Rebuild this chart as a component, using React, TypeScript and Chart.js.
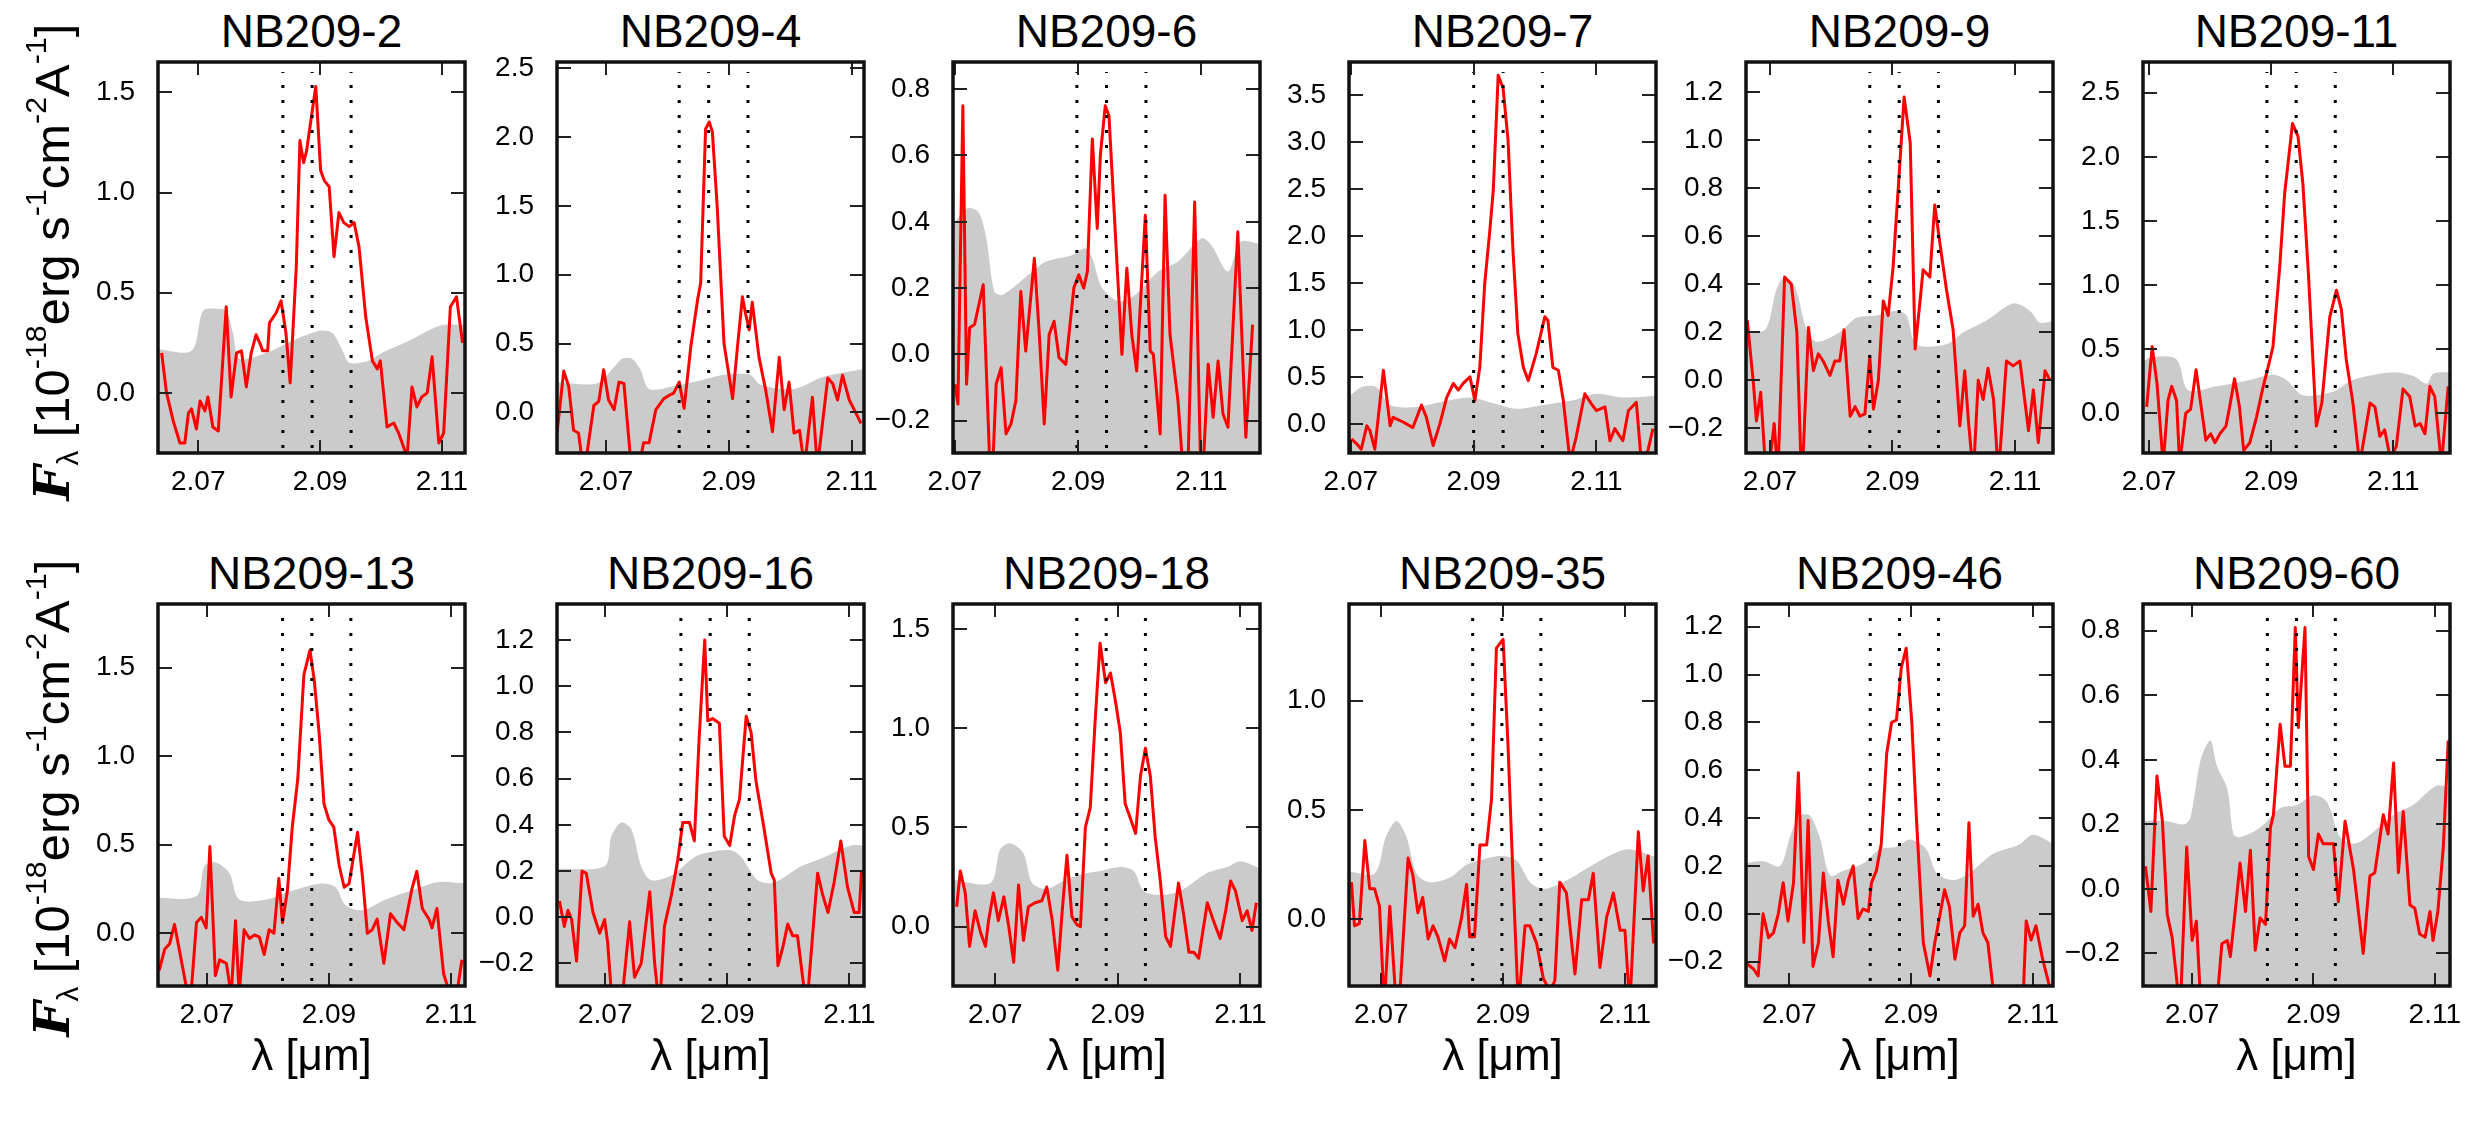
import React, { useEffect, useRef } from 'react';
import { Chart, registerables } from 'chart.js';

Chart.register(...registerables);

const FONT = "'Liberation Sans', Arial, Helvetica, sans-serif";
Chart.defaults.font.family = FONT;

// ---------------- DATA ----------------
const PANEL_NAMES = [
  'NB209-2', 'NB209-4', 'NB209-6', 'NB209-7', 'NB209-9', 'NB209-11',
  'NB209-13', 'NB209-16', 'NB209-18', 'NB209-35', 'NB209-46', 'NB209-60',
];

const X_TICKS = [2.07, 2.09, 2.11];

const X_MIN = [2.0634, 2.0620, 2.0697, 2.0697, 2.0661, 2.0690, 2.0620, 2.0621, 2.0631, 2.0647, 2.0629, 2.0619];
const X_MAX = [2.1138, 2.1120, 2.1195, 2.1197, 2.1162, 2.1193, 2.1123, 2.1124, 2.1132, 2.1151, 2.1133, 2.1125];
const Y_MIN = [-0.30, -0.295, -0.2975, -0.31, -0.303, -0.31, -0.298, -0.298, -0.30, -0.305, -0.302, -0.301];
const Y_MAX = [1.652, 2.546, 0.882, 3.85, 1.326, 2.74, 1.86, 1.356, 1.628, 1.442, 1.295, 0.883];

const Y_TICKS = [
  [0, 0.5, 1.0, 1.5],
  [0, 0.5, 1.0, 1.5, 2.0, 2.5],
  [-0.2, 0, 0.2, 0.4, 0.6, 0.8],
  [0, 0.5, 1.0, 1.5, 2.0, 2.5, 3.0, 3.5],
  [-0.2, 0, 0.2, 0.4, 0.6, 0.8, 1.0, 1.2],
  [0, 0.5, 1.0, 1.5, 2.0, 2.5],
  [0, 0.5, 1.0, 1.5],
  [-0.2, 0, 0.2, 0.4, 0.6, 0.8, 1.0, 1.2],
  [0, 0.5, 1.0, 1.5],
  [0, 0.5, 1.0],
  [-0.2, 0, 0.2, 0.4, 0.6, 0.8, 1.0, 1.2],
  [-0.2, 0, 0.2, 0.4, 0.6, 0.8],
];

// [NII]6548, Halpha, [NII]6583 marker wavelengths (micron)
const LINE_MARKS = [
  [2.0839, 2.0887, 2.0951],
  [2.0819, 2.0867, 2.0931],
  [2.0898, 2.0946, 2.1010],
  [2.0900, 2.0948, 2.1012],
  [2.0863, 2.0911, 2.0975],
  [2.0893, 2.0941, 2.1005],
  [2.0824, 2.0872, 2.0936],
  [2.0824, 2.0872, 2.0936],
  [2.0833, 2.0881, 2.0945],
  [2.0850, 2.0898, 2.0962],
  [2.0833, 2.0881, 2.0945],
  [2.0824, 2.0872, 2.0936],
];

// spectra: [wavelength (micron), flux]
const NB209_2_SPEC = [[2.0640,0.20],[2.0648,0.00],[2.0659,-0.14],[2.0670,-0.25],[2.0678,-0.25],[2.0684,-0.10],[2.0689,-0.08],[2.0697,-0.18],[2.0703,-0.04],[2.0711,-0.09],[2.0716,-0.02],[2.0724,-0.17],[2.0733,-0.19],[2.0746,0.43],[2.0754,-0.02],[2.0763,0.20],[2.0771,0.21],[2.0779,0.03],[2.0787,0.20],[2.0795,0.29],[2.0801,0.25],[2.0806,0.21],[2.0814,0.21],[2.0817,0.35],[2.0828,0.40],[2.0836,0.46],[2.0844,0.30],[2.0851,0.05],[2.0861,0.63],[2.0867,1.26],[2.0873,1.15],[2.0878,1.21],[2.0885,1.36],[2.0893,1.53],[2.0901,1.11],[2.0907,1.06],[2.0915,1.03],[2.0923,0.68],[2.0931,0.90],[2.0939,0.85],[2.0948,0.83],[2.0956,0.85],[2.0964,0.73],[2.0975,0.38],[2.0986,0.16],[2.0994,0.12],[2.0999,0.16],[2.1010,-0.17],[2.1021,-0.15],[2.1029,-0.20],[2.1043,-0.32],[2.1051,0.03],[2.1059,-0.07],[2.1067,-0.02],[2.1076,0.00],[2.1084,0.18],[2.1095,-0.25],[2.1103,-0.20],[2.1114,0.43],[2.1124,0.48],[2.1134,0.25]];
const NB209_2_NOISE = [[2.0630,0.22],[2.0689,0.21],[2.0708,0.41],[2.0730,0.42],[2.0746,0.41],[2.0757,0.30],[2.0768,0.17],[2.0812,0.20],[2.0855,0.26],[2.0899,0.31],[2.0920,0.30],[2.0937,0.21],[2.0948,0.15],[2.0980,0.16],[2.1002,0.20],[2.1046,0.26],[2.1084,0.32],[2.1105,0.34],[2.1140,0.34]];

const NB209_4_SPEC = [[2.0620,-0.15],[2.0631,0.30],[2.0639,0.19],[2.0647,-0.13],[2.0655,-0.15],[2.0664,-0.45],[2.0680,0.05],[2.0688,0.08],[2.0696,0.31],[2.0704,0.09],[2.0713,0.02],[2.0721,0.22],[2.0729,0.21],[2.0745,-0.60],[2.0761,-0.22],[2.0770,-0.22],[2.0781,0.02],[2.0794,0.10],[2.0805,0.13],[2.0810,0.14],[2.0819,0.22],[2.0827,0.03],[2.0838,0.48],[2.0849,0.82],[2.0854,0.94],[2.0862,2.06],[2.0868,2.11],[2.0873,2.04],[2.0881,1.49],[2.0892,0.50],[2.0906,0.10],[2.0914,0.48],[2.0922,0.84],[2.0927,0.72],[2.0933,0.60],[2.0938,0.80],[2.0949,0.40],[2.0960,0.16],[2.0971,-0.14],[2.0982,0.40],[2.0990,0.02],[2.0998,0.22],[2.1006,-0.15],[2.1015,-0.13],[2.1023,-0.40],[2.1036,0.11],[2.1044,-0.40],[2.1061,0.25],[2.1069,0.21],[2.1077,0.09],[2.1085,0.27],[2.1096,0.09],[2.1104,0.02],[2.1115,-0.08]];
const NB209_4_NOISE = [[2.0615,0.22],[2.0685,0.21],[2.0713,0.33],[2.0726,0.39],[2.0742,0.39],[2.0756,0.31],[2.0770,0.17],[2.0810,0.19],[2.0843,0.22],[2.0887,0.27],[2.0919,0.28],[2.0936,0.27],[2.0952,0.20],[2.1006,0.17],[2.1055,0.26],[2.1125,0.32]];

const NB209_6_SPEC = [[2.0700,-0.09],[2.0705,-0.15],[2.0713,0.75],[2.0719,-0.09],[2.0724,0.08],[2.0732,0.09],[2.0746,0.21],[2.0759,-0.45],[2.0767,-0.09],[2.0775,-0.04],[2.0783,-0.24],[2.0791,-0.21],[2.0799,-0.14],[2.0807,0.19],[2.0815,0.01],[2.0829,0.29],[2.0837,0.06],[2.0845,-0.21],[2.0853,0.06],[2.0861,0.10],[2.0869,-0.01],[2.0880,-0.03],[2.0893,0.20],[2.0901,0.24],[2.0909,0.20],[2.0915,0.25],[2.0923,0.65],[2.0931,0.38],[2.0936,0.60],[2.0944,0.75],[2.0950,0.72],[2.0971,0.00],[2.0979,0.26],[2.0987,0.06],[2.0995,-0.05],[2.1009,0.42],[2.1017,0.01],[2.1022,0.00],[2.1033,-0.24],[2.1041,0.48],[2.1049,0.06],[2.1062,-0.14],[2.1076,-0.50],[2.1089,0.46],[2.1100,-0.45],[2.1111,-0.03],[2.1119,-0.19],[2.1127,-0.02],[2.1135,-0.18],[2.1143,-0.22],[2.1159,0.37],[2.1172,-0.25],[2.1183,0.09]];
const NB209_6_NOISE = [[2.0690,0.37],[2.0719,0.44],[2.0738,0.43],[2.0751,0.35],[2.0764,0.19],[2.0778,0.18],[2.0826,0.25],[2.0848,0.28],[2.0891,0.30],[2.0912,0.32],[2.0923,0.29],[2.0939,0.20],[2.0966,0.16],[2.0993,0.18],[2.1030,0.25],[2.1062,0.28],[2.1100,0.35],[2.1116,0.33],[2.1143,0.25],[2.1164,0.34],[2.1200,0.33]];

const NB209_7_SPEC = [[2.0701,-0.16],[2.0709,-0.21],[2.0717,-0.27],[2.0726,-0.02],[2.0731,-0.07],[2.0739,-0.27],[2.0753,0.57],[2.0764,-0.02],[2.0769,0.07],[2.0785,0.02],[2.0801,-0.04],[2.0815,0.20],[2.0823,0.07],[2.0834,-0.23],[2.0845,0.00],[2.0856,0.28],[2.0867,0.43],[2.0875,0.36],[2.0883,0.43],[2.0894,0.50],[2.0902,0.25],[2.0910,0.60],[2.0918,1.49],[2.0926,2.03],[2.0932,2.49],[2.0940,3.71],[2.0948,3.57],[2.0956,3.02],[2.0964,1.85],[2.0972,0.96],[2.0981,0.60],[2.0989,0.46],[2.1002,0.75],[2.1016,1.14],[2.1021,1.10],[2.1029,0.60],[2.1038,0.57],[2.1046,0.25],[2.1057,-0.40],[2.1067,-0.14],[2.1081,0.32],[2.1092,0.21],[2.1100,0.14],[2.1114,0.18],[2.1122,-0.18],[2.1130,-0.05],[2.1143,-0.18],[2.1152,0.14],[2.1165,0.23],[2.1173,-0.40],[2.1184,-0.28],[2.1192,-0.05]];
const NB209_7_NOISE = [[2.0690,0.25],[2.0717,0.39],[2.0742,0.39],[2.0764,0.20],[2.0807,0.18],[2.0845,0.23],[2.0894,0.28],[2.0926,0.23],[2.0970,0.16],[2.1013,0.20],[2.1062,0.25],[2.1100,0.32],[2.1143,0.28],[2.1200,0.30]];

const NB209_9_SPEC = [[2.0663,0.25],[2.0673,-0.01],[2.0678,-0.17],[2.0685,-0.05],[2.0695,-0.45],[2.0707,-0.18],[2.0713,-0.40],[2.0724,0.43],[2.0735,0.40],[2.0744,0.20],[2.0752,-0.45],[2.0763,0.22],[2.0771,0.04],[2.0779,0.11],[2.0787,0.08],[2.0798,0.02],[2.0806,0.08],[2.0814,0.08],[2.0821,0.21],[2.0831,-0.15],[2.0839,-0.11],[2.0847,-0.15],[2.0855,-0.14],[2.0863,0.10],[2.0869,-0.12],[2.0877,0.00],[2.0885,0.33],[2.0893,0.27],[2.0901,0.47],[2.0911,0.86],[2.0919,1.18],[2.0929,0.99],[2.0937,0.13],[2.0945,0.33],[2.0950,0.46],[2.0961,0.43],[2.0969,0.73],[2.0978,0.56],[2.0988,0.38],[2.0999,0.21],[2.1010,-0.19],[2.1018,0.04],[2.1024,-0.17],[2.1032,-0.40],[2.1040,0.00],[2.1048,-0.08],[2.1056,0.05],[2.1065,-0.08],[2.1073,-0.40],[2.1086,0.08],[2.1097,0.06],[2.1108,0.08],[2.1122,-0.21],[2.1130,-0.04],[2.1138,-0.26],[2.1149,0.04],[2.1157,0.00]];
const NB209_9_NOISE = [[2.0655,0.21],[2.0692,0.21],[2.0711,0.38],[2.0724,0.43],[2.0741,0.39],[2.0760,0.21],[2.0776,0.16],[2.0814,0.20],[2.0841,0.26],[2.0874,0.27],[2.0907,0.29],[2.0923,0.27],[2.0939,0.15],[2.0988,0.15],[2.1016,0.20],[2.1054,0.25],[2.1097,0.32],[2.1124,0.29],[2.1141,0.24],[2.1165,0.25]];

const NB209_11_SPEC = [[2.0696,0.05],[2.0705,0.52],[2.0713,0.23],[2.0723,-0.40],[2.0731,0.10],[2.0737,0.21],[2.0745,0.10],[2.0750,-0.40],[2.0760,0.00],[2.0768,0.03],[2.0777,0.34],[2.0783,0.13],[2.0793,-0.21],[2.0801,-0.16],[2.0808,-0.23],[2.0816,-0.16],[2.0826,-0.10],[2.0832,0.05],[2.0840,0.27],[2.0848,0.05],[2.0855,-0.29],[2.0865,-0.23],[2.0876,-0.03],[2.0887,0.21],[2.0895,0.36],[2.0903,0.52],[2.0914,1.14],[2.0922,1.71],[2.0935,2.26],[2.0944,2.16],[2.0952,1.79],[2.0961,1.09],[2.0974,-0.10],[2.0983,0.08],[2.0996,0.75],[2.1007,0.96],[2.1015,0.81],[2.1023,0.42],[2.1034,0.08],[2.1045,-0.40],[2.1062,0.08],[2.1070,0.05],[2.1078,-0.18],[2.1086,-0.13],[2.1095,-0.35],[2.1105,-0.26],[2.1116,0.19],[2.1127,0.13],[2.1136,-0.10],[2.1144,-0.08],[2.1152,-0.16],[2.1160,0.21],[2.1168,0.13],[2.1179,-0.40],[2.1190,0.21]];
const NB209_11_NOISE = [[2.0685,0.39],[2.0707,0.44],[2.0745,0.42],[2.0764,0.18],[2.0810,0.21],[2.0865,0.26],[2.0903,0.30],[2.0925,0.26],[2.0952,0.14],[2.1002,0.17],[2.1034,0.26],[2.1100,0.32],[2.1133,0.29],[2.1155,0.23],[2.1166,0.31],[2.1200,0.32]];

const NB209_13_SPEC = [[2.0622,-0.21],[2.0631,-0.09],[2.0639,-0.06],[2.0647,0.05],[2.0658,-0.15],[2.0669,-0.35],[2.0674,-0.35],[2.0683,0.06],[2.0691,0.09],[2.0699,0.03],[2.0705,0.49],[2.0714,-0.24],[2.0721,-0.15],[2.0732,-0.17],[2.0740,-0.35],[2.0747,0.07],[2.0753,-0.35],[2.0761,0.02],[2.0770,-0.03],[2.0778,-0.01],[2.0786,-0.02],[2.0794,-0.12],[2.0802,0.02],[2.0810,0.00],[2.0818,0.31],[2.0824,0.06],[2.0832,0.24],[2.0840,0.60],[2.0849,0.87],[2.0859,1.46],[2.0869,1.60],[2.0876,1.43],[2.0884,1.13],[2.0892,0.73],[2.0900,0.64],[2.0908,0.60],[2.0917,0.38],[2.0925,0.26],[2.0933,0.28],[2.0947,0.57],[2.0955,0.32],[2.0963,0.00],[2.0971,0.02],[2.0979,0.08],[2.0990,-0.17],[2.1001,0.11],[2.1012,0.06],[2.1023,0.02],[2.1036,0.25],[2.1044,0.35],[2.1053,0.14],[2.1064,0.08],[2.1069,0.03],[2.1077,0.14],[2.1088,-0.23],[2.1099,-0.35],[2.1110,-0.33],[2.1118,-0.15]];
const NB209_13_NOISE = [[2.0615,0.20],[2.0683,0.21],[2.0696,0.38],[2.0715,0.40],[2.0737,0.34],[2.0753,0.19],[2.0797,0.19],[2.0840,0.24],[2.0884,0.28],[2.0911,0.26],[2.0927,0.16],[2.0955,0.13],[2.0993,0.19],[2.1042,0.25],[2.1080,0.29],[2.1125,0.28]];

const NB209_16_SPEC = [[2.0625,0.07],[2.0633,-0.04],[2.0639,0.03],[2.0645,-0.01],[2.0653,-0.19],[2.0662,0.20],[2.0669,0.19],[2.0680,0.02],[2.0691,-0.07],[2.0699,-0.01],[2.0704,-0.11],[2.0712,-0.40],[2.0726,-0.40],[2.0740,-0.02],[2.0748,-0.26],[2.0759,-0.20],[2.0773,0.11],[2.0781,-0.20],[2.0789,-0.40],[2.0797,-0.04],[2.0808,0.09],[2.0819,0.25],[2.0827,0.41],[2.0838,0.41],[2.0846,0.33],[2.0854,0.78],[2.0863,1.20],[2.0868,0.85],[2.0876,0.86],[2.0887,0.84],[2.0895,0.35],[2.0904,0.31],[2.0912,0.44],[2.0920,0.51],[2.0931,0.87],[2.0939,0.80],[2.0947,0.59],[2.0958,0.42],[2.0972,0.19],[2.0977,0.16],[2.0983,-0.21],[2.0991,-0.13],[2.0999,-0.03],[2.1007,-0.08],[2.1015,-0.08],[2.1030,-0.40],[2.1048,0.19],[2.1056,0.10],[2.1065,0.02],[2.1075,0.15],[2.1086,0.33],[2.1097,0.13],[2.1108,0.02],[2.1116,0.02],[2.1120,0.20]];
const NB209_16_NOISE = [[2.0615,0.21],[2.0699,0.22],[2.0710,0.35],[2.0726,0.41],[2.0743,0.38],[2.0759,0.22],[2.0775,0.16],[2.0808,0.18],[2.0846,0.26],[2.0868,0.28],[2.0906,0.29],[2.0923,0.26],[2.0950,0.16],[2.0977,0.15],[2.1021,0.22],[2.1059,0.26],[2.1103,0.31],[2.1126,0.31]];

const NB209_18_SPEC = [[2.0637,0.10],[2.0643,0.28],[2.0651,0.17],[2.0658,-0.10],[2.0667,0.08],[2.0676,-0.03],[2.0684,-0.10],[2.0689,0.03],[2.0697,0.17],[2.0705,0.03],[2.0714,0.15],[2.0722,0.00],[2.0730,-0.18],[2.0738,0.21],[2.0746,-0.07],[2.0754,0.10],[2.0765,0.12],[2.0776,0.13],[2.0784,0.20],[2.0793,0.03],[2.0802,-0.22],[2.0809,0.07],[2.0817,0.36],[2.0825,0.05],[2.0833,0.01],[2.0839,0.00],[2.0847,0.50],[2.0855,0.60],[2.0863,1.04],[2.0871,1.43],[2.0880,1.23],[2.0888,1.28],[2.0896,1.14],[2.0904,0.98],[2.0912,0.62],[2.0920,0.55],[2.0929,0.47],[2.0937,0.76],[2.0945,0.90],[2.0953,0.76],[2.0961,0.45],[2.0969,0.24],[2.0978,-0.05],[2.0986,-0.10],[2.0999,0.22],[2.1007,0.07],[2.1016,-0.13],[2.1024,-0.13],[2.1032,-0.16],[2.1046,0.12],[2.1056,0.03],[2.1067,-0.06],[2.1076,0.08],[2.1084,0.23],[2.1092,0.18],[2.1103,0.03],[2.1111,0.08],[2.1119,-0.02],[2.1126,0.12]];
const NB209_18_NOISE = [[2.0625,0.24],[2.0692,0.22],[2.0708,0.39],[2.0724,0.42],[2.0746,0.37],[2.0760,0.22],[2.0784,0.19],[2.0817,0.24],[2.0850,0.27],[2.0871,0.28],[2.0904,0.30],[2.0926,0.28],[2.0942,0.18],[2.0969,0.16],[2.1002,0.18],[2.1046,0.27],[2.1078,0.30],[2.1100,0.33],[2.1135,0.29]];

const NB209_35_SPEC = [[2.0651,0.17],[2.0656,-0.03],[2.0664,-0.02],[2.0673,0.36],[2.0681,0.14],[2.0689,0.14],[2.0697,0.06],[2.0705,-0.40],[2.0714,0.06],[2.0727,-0.50],[2.0744,0.28],[2.0752,0.20],[2.0760,0.03],[2.0768,0.10],[2.0777,-0.09],[2.0785,-0.03],[2.0793,-0.08],[2.0804,-0.19],[2.0812,-0.09],[2.0821,-0.13],[2.0832,0.01],[2.0840,0.16],[2.0845,-0.08],[2.0853,-0.08],[2.0862,0.34],[2.0873,0.34],[2.0881,0.55],[2.0889,1.24],[2.0900,1.28],[2.0908,0.80],[2.0916,0.21],[2.0925,-0.40],[2.0936,-0.03],[2.0944,-0.03],[2.0955,-0.11],[2.0966,-0.27],[2.0977,-0.33],[2.0985,-0.28],[2.0993,0.17],[2.1004,0.12],[2.1018,-0.25],[2.1029,0.09],[2.1040,0.09],[2.1048,0.21],[2.1059,-0.22],[2.1070,0.01],[2.1081,0.12],[2.1092,-0.05],[2.1100,-0.05],[2.1108,-0.40],[2.1122,0.40],[2.1130,0.13],[2.1138,0.29],[2.1147,-0.11]];
const NB209_35_NOISE = [[2.0645,0.22],[2.0689,0.21],[2.0708,0.38],[2.0725,0.45],[2.0741,0.38],[2.0758,0.21],[2.0779,0.17],[2.0812,0.19],[2.0840,0.25],[2.0862,0.27],[2.0895,0.29],[2.0922,0.27],[2.0944,0.17],[2.0966,0.14],[2.0999,0.17],[2.1042,0.24],[2.1081,0.30],[2.1108,0.32],[2.1155,0.28]];

const NB209_46_SPEC = [[2.0631,-0.21],[2.0641,-0.23],[2.0649,-0.26],[2.0657,0.00],[2.0666,-0.10],[2.0674,-0.08],[2.0682,0.00],[2.0690,0.13],[2.0698,-0.03],[2.0707,0.13],[2.0715,0.59],[2.0724,-0.12],[2.0731,0.39],[2.0739,-0.22],[2.0748,-0.12],[2.0756,0.17],[2.0764,-0.03],[2.0772,-0.18],[2.0780,0.14],[2.0789,0.04],[2.0797,0.14],[2.0805,0.20],[2.0813,-0.02],[2.0821,0.02],[2.0830,0.01],[2.0835,0.13],[2.0843,0.18],[2.0851,0.29],[2.0860,0.67],[2.0868,0.80],[2.0876,0.81],[2.0884,1.03],[2.0892,1.11],[2.0901,0.81],[2.0909,0.39],[2.0920,-0.12],[2.0931,-0.26],[2.0939,-0.12],[2.0947,-0.01],[2.0955,0.10],[2.0963,0.03],[2.0972,-0.19],[2.0980,-0.08],[2.0988,-0.05],[2.0995,0.38],[2.1002,-0.01],[2.1010,0.04],[2.1018,-0.08],[2.1026,-0.12],[2.1034,-0.30],[2.1060,-0.60],[2.1084,-0.35],[2.1089,-0.03],[2.1097,-0.11],[2.1105,-0.05],[2.1116,-0.19],[2.1127,-0.30]];
const NB209_46_NOISE = [[2.0625,0.21],[2.0657,0.22],[2.0685,0.20],[2.0701,0.32],[2.0717,0.41],[2.0734,0.41],[2.0750,0.32],[2.0767,0.16],[2.0789,0.18],[2.0821,0.21],[2.0849,0.27],[2.0876,0.28],[2.0898,0.31],[2.0925,0.27],[2.0942,0.17],[2.0969,0.14],[2.0996,0.17],[2.1034,0.25],[2.1078,0.29],[2.1100,0.33],[2.1135,0.29]];

const NB209_60_SPEC = [[2.0623,0.07],[2.0632,-0.07],[2.0642,0.35],[2.0651,0.21],[2.0659,-0.08],[2.0667,-0.15],[2.0675,-0.29],[2.0681,-0.35],[2.0691,0.13],[2.0700,-0.16],[2.0707,-0.10],[2.0714,-0.35],[2.0728,-0.45],[2.0741,-0.35],[2.0749,-0.17],[2.0758,-0.16],[2.0763,-0.21],[2.0771,-0.07],[2.0779,0.08],[2.0788,-0.07],[2.0796,0.12],[2.0804,-0.19],[2.0812,-0.09],[2.0821,-0.11],[2.0829,0.19],[2.0834,0.23],[2.0845,0.51],[2.0853,0.38],[2.0862,0.38],[2.0870,0.81],[2.0875,0.50],[2.0881,0.67],[2.0886,0.81],[2.0892,0.10],[2.0900,0.06],[2.0908,0.17],[2.0916,0.14],[2.0933,0.14],[2.0941,-0.04],[2.0952,0.21],[2.0966,0.06],[2.0982,-0.20],[2.0993,0.04],[2.1001,0.05],[2.1015,0.23],[2.1023,0.17],[2.1032,0.39],[2.1040,0.05],[2.1048,0.24],[2.1059,-0.05],[2.1067,-0.06],[2.1075,-0.14],[2.1084,-0.15],[2.1092,-0.07],[2.1097,-0.16],[2.1105,-0.07],[2.1114,0.13],[2.1122,0.46]];
const NB209_60_NOISE = [[2.0615,0.21],[2.0659,0.21],[2.0686,0.20],[2.0697,0.22],[2.0714,0.40],[2.0730,0.46],[2.0741,0.38],[2.0758,0.31],[2.0768,0.17],[2.0779,0.16],[2.0812,0.19],[2.0845,0.25],[2.0873,0.26],[2.0900,0.29],[2.0922,0.27],[2.0944,0.16],[2.0966,0.14],[2.0988,0.16],[2.1032,0.23],[2.1064,0.26],[2.1103,0.32],[2.1130,0.31]];

const SPECTRA = [NB209_2_SPEC, NB209_4_SPEC, NB209_6_SPEC, NB209_7_SPEC, NB209_9_SPEC, NB209_11_SPEC,
  NB209_13_SPEC, NB209_16_SPEC, NB209_18_SPEC, NB209_35_SPEC, NB209_46_SPEC, NB209_60_SPEC];
const NOISE = [NB209_2_NOISE, NB209_4_NOISE, NB209_6_NOISE, NB209_7_NOISE, NB209_9_NOISE, NB209_11_NOISE,
  NB209_13_NOISE, NB209_16_NOISE, NB209_18_NOISE, NB209_35_NOISE, NB209_46_NOISE, NB209_60_NOISE];

// ---------------- LAYOUT ----------------
const FRAME_LEFT = [158, 557, 953, 1349, 1746, 2143];
const FRAME_W = 307;
const ROW_TOP = [62, 604];
const ROW_H = [391, 382];
const PAD_L = 110, PAD_R = 30, PAD_T = 20, PAD_B = 60;

const fmt = (v: number, d: number) => Number(v).toFixed(d).replace('-', '\u2212');

const panelDecor = {
  id: 'panelDecor',
  afterDatasetsDraw(chart: any, _args: any, opts: any) {
    const { ctx, chartArea: a, scales } = chart;
    ctx.save();
    ctx.beginPath();
    ctx.rect(a.left, a.top, a.right - a.left, a.bottom - a.top);
    ctx.clip();
    ctx.strokeStyle = '#000';
    ctx.lineWidth = 3;
    ctx.setLineDash([3, 12]);
    for (const w of opts.lines || []) {
      const x = scales.x.getPixelForValue(w);
      ctx.beginPath();
      ctx.moveTo(x, a.bottom - 5);
      ctx.lineTo(x, a.top + 10);
      ctx.stroke();
    }
    ctx.restore();
  },
  afterDraw(chart: any) {
    const { ctx, chartArea: a, scales } = chart;
    ctx.save();
    ctx.strokeStyle = '#222';
    ctx.lineWidth = 2;
    ctx.beginPath();
    for (const t of scales.y.ticks) {
      const y = Math.round(scales.y.getPixelForValue(t.value));
      ctx.moveTo(a.left, y); ctx.lineTo(a.left + 14, y);
      ctx.moveTo(a.right, y); ctx.lineTo(a.right - 14, y);
    }
    for (const t of scales.x.ticks) {
      const x = Math.round(scales.x.getPixelForValue(t.value));
      ctx.moveTo(x, a.bottom); ctx.lineTo(x, a.bottom - 13);
      ctx.moveTo(x, a.top); ctx.lineTo(x, a.top + 13);
    }
    ctx.stroke();
    ctx.strokeStyle = '#111';
    ctx.lineWidth = 3.5;
    ctx.strokeRect(a.left, a.top, a.right - a.left, a.bottom - a.top);
    ctx.restore();
  },
};

function Panel({ idx }: { idx: number }) {
  const ref = useRef<HTMLCanvasElement>(null);
  const col = idx % 6;
  const row = Math.floor(idx / 6);
  const w = FRAME_W + PAD_L + PAD_R;
  const h = ROW_H[row] + PAD_T + PAD_B;

  useEffect(() => {
    if (!ref.current) return;
    const chart = new Chart(ref.current, {
      type: 'line',
      data: {
        datasets: [
          {
            data: SPECTRA[idx].map(([x, y]) => ({ x, y })),
            borderColor: '#ff0000',
            borderWidth: 3,
            borderJoinStyle: 'round',
            pointRadius: 0,
            fill: false,
            tension: 0,
            order: 0,
          },
          {
            data: NOISE[idx].map(([x, y]) => ({ x, y })),
            borderColor: 'rgba(0,0,0,0)',
            borderWidth: 0,
            backgroundColor: '#cbcbcb',
            pointRadius: 0,
            fill: 'start',
            tension: 0.3,
            order: 1,
          },
        ],
      },
      options: {
        animation: false,
        responsive: false,
        devicePixelRatio: 1,
        events: [],
        layout: { padding: { left: 0, top: PAD_T, right: PAD_R, bottom: 0 } },
        plugins: {
          legend: { display: false },
          tooltip: { enabled: false },
          title: { display: false },
          panelDecor: { lines: LINE_MARKS[idx] },
        } as any,
        scales: {
          x: {
            type: 'linear',
            min: X_MIN[idx],
            max: X_MAX[idx],
            bounds: 'data',
            grid: { display: false },
            border: { display: false },
            afterBuildTicks: (s: any) => { s.ticks = X_TICKS.map((v) => ({ value: v })); },
            afterFit: (s: any) => { s.height = PAD_B; s.paddingLeft = 0; s.paddingRight = 0; },
            ticks: {
              callback: (v: any) => fmt(v, 2),
              font: { size: 28, family: FONT },
              color: '#000',
              padding: 4,
              maxRotation: 0,
              minRotation: 0,
              autoSkip: false,
            },
          },
          y: {
            type: 'linear',
            min: Y_MIN[idx],
            max: Y_MAX[idx],
            bounds: 'data',
            grid: { display: false },
            border: { display: false },
            afterBuildTicks: (s: any) => { s.ticks = Y_TICKS[idx].map((v) => ({ value: v })); },
            afterFit: (s: any) => { s.width = PAD_L; s.paddingTop = 0; s.paddingBottom = 0; },
            ticks: {
              callback: (v: any) => fmt(v, 1),
              font: { size: 28, family: FONT },
              color: '#000',
              padding: 15,
              autoSkip: false,
            },
          },
        },
      } as any,
      plugins: [panelDecor as any],
    });
    return () => chart.destroy();
  }, [idx]);

  return (
    <canvas
      ref={ref}
      width={w}
      height={h}
      style={{ position: 'absolute', left: FRAME_LEFT[col] - PAD_L, top: ROW_TOP[row] - PAD_T, width: w, height: h }}
    />
  );
}

const SUP: React.CSSProperties = { fontSize: '0.62em', verticalAlign: '0.75em', lineHeight: 0 };

function YLabel({ cy }: { cy: number }) {
  return (
    <div
      style={{
        position: 'absolute', left: 55, top: cy,
        transform: 'translate(-50%, -50%) rotate(-90deg)',
        whiteSpace: 'nowrap', fontFamily: FONT, fontSize: 49, lineHeight: '49px', color: '#000',
      }}
    >
      <span style={{ fontFamily: "'DejaVu Serif', serif", fontStyle: 'italic', fontWeight: 'bold' }}>F</span>
      <span style={{ fontSize: '0.6em', position: 'relative', top: '0.3em' }}>λ</span>
      {' [10'}<sup style={SUP}>-18</sup>erg s<sup style={SUP}>-1</sup>cm<sup style={SUP}>-2</sup>A<sup style={SUP}>-1</sup>]
    </div>
  );
}

export default function App() {
  return (
    <div style={{ position: 'absolute', left: 0, top: 0, width: 2487, height: 1134, background: '#fff', overflow: 'hidden' }}>
      {PANEL_NAMES.map((name, i) => {
        const col = i % 6;
        const row = Math.floor(i / 6);
        return (
          <div
            key={'t' + i}
            style={{
              position: 'absolute', left: FRAME_LEFT[col], width: FRAME_W, top: ROW_TOP[row] - 54,
              textAlign: 'center', fontFamily: FONT, fontSize: 46, lineHeight: '46px', color: '#000', whiteSpace: 'nowrap',
            }}
          >
            {name}
          </div>
        );
      })}
      {PANEL_NAMES.map((_, i) => <Panel key={'p' + i} idx={i} />)}
      <YLabel cy={262} />
      <YLabel cy={798} />
      {FRAME_LEFT.map((l, i) => (
        <div
          key={'xl' + i}
          style={{
            position: 'absolute', left: l, width: FRAME_W, top: 1033, textAlign: 'center',
            fontFamily: FONT, fontSize: 44, lineHeight: '44px', color: '#000', whiteSpace: 'nowrap',
          }}
        >
          λ [μm]
        </div>
      ))}
    </div>
  );
}
